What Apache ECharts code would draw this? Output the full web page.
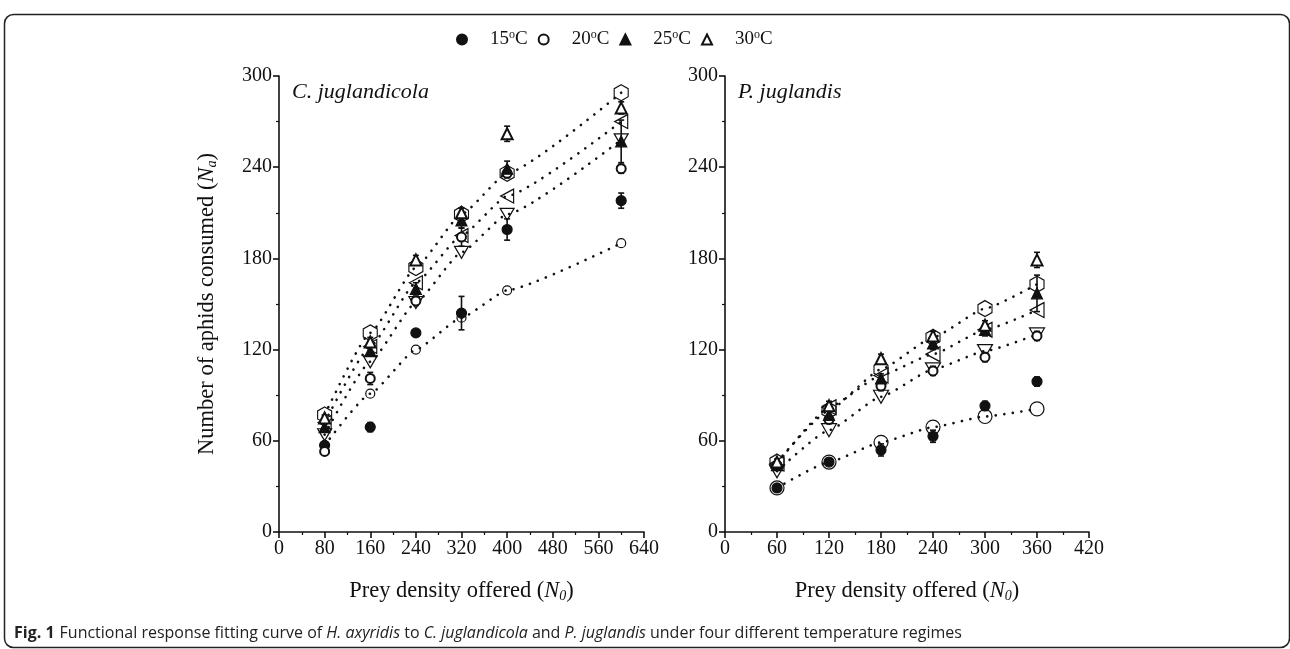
<!DOCTYPE html>
<html><head><meta charset="utf-8">
<script src="https://cdn.jsdelivr.net/npm/echarts@6/dist/echarts.min.js"></script>
<style>html,body{margin:0;padding:0;background:#fff}#c{width:1290px;height:649px}</style>
</head><body><div id="c"></div>
<script>
// ---------- data ----------
const tempNames = ['15°C', '20°C', '25°C', '30°C'];
const xLeft = [80, 160, 240, 320, 400, 600];
const xRight = [60, 120, 180, 240, 300, 360];
const xTicksLeft = [0, 80, 160, 240, 320, 400, 480, 560, 640];
const xTicksRight = [0, 60, 120, 180, 240, 300, 360, 420];
const yTicks = [0, 60, 120, 180, 240, 300];

// C. juglandicola observed (mean) and SE
const cjObs15 = [57, 69, 131, 144, 199, 218];
const cjObs20 = [53, 101, 152, 194, 236, 239];
const cjObs25 = [69, 119, 160, 205, 239, 257];
const cjObs30 = [75, 125, 179, 210, 262, 279];
const cjErr15 = [2, 3, 2, 11, 7, 5];
const cjErr20 = [2, 4, 3, 6, 3, 3];
const cjErr25 = [2, 3, 4, 5, 5, 14];
const cjErr30 = [2, 3, 3, 3, 5, 4];
// C. juglandicola fitted
const cjFit15 = [57, 91, 120, 141, 159, 190];
const cjFit20 = [64, 112, 151, 184, 209, 258];
const cjFit25 = [72, 122, 164, 195, 221, 270];
const cjFit30 = [77, 131, 174, 209, 236, 289];

// P. juglandis observed and SE
const pjObs15 = [29, 46, 54, 63, 83, 99];
const pjObs20 = [44, 74, 96, 106, 115, 129];
const pjObs25 = [44, 77, 101, 124, 133, 157];
const pjObs30 = [46, 83, 114, 129, 136, 179];
const pjErr15 = [1, 1, 4, 4, 3, 3];
const pjErr20 = [2, 2, 3, 3, 3, 3];
const pjErr25 = [2, 3, 3, 4, 4, 12];
const pjErr30 = [2, 3, 3, 3, 3, 5];
// P. juglandis fitted
const pjFit15 = [29, 46, 59, 69, 76, 81];
const pjFit20 = [40, 67, 89, 107, 119, 130];
const pjFit25 = [45, 82, 103, 117, 133, 146];
const pjFit30 = [46, 80, 107, 128, 147, 163];

// ---------- styling ----------
const INK = '#111';
const SERIF = '"Liberation Serif","Times New Roman",serif';
const SANS = '"Open Sans","Noto Sans",sans-serif';
const obsSymbols = ['circle', 'emptyCircle', 'triangle', 'emptyTriangle'];
const obsSizes = [10, 9, 11, 11];
const HEX = 'path://M5,0 L10,2.887 L10,8.66 L5,11.547 L0,8.66 L0,2.887 Z';
const LTRI = 'path://M0,5 L10,0 L10,10 Z';
const DTRI = 'path://M0,0 L10,0 L5,8.66 Z';
const fitSymbols = ['circle', DTRI, LTRI, HEX];
const fitSizesLeft = [9, [14, 12], [13, 14], [14, 16]];
const fitSizesRight = [14, [15, 13], [14, 15], [14, 16]];

const panels = [
  { x: xLeft, obs: [cjObs15, cjObs20, cjObs25, cjObs30], err: [cjErr15, cjErr20, cjErr25, cjErr30],
    fit: [cjFit15, cjFit20, cjFit25, cjFit30], fitSizes: fitSizesLeft },
  { x: xRight, obs: [pjObs15, pjObs20, pjObs25, pjObs30], err: [pjErr15, pjErr20, pjErr25, pjErr30],
    fit: [pjFit15, pjFit20, pjFit25, pjFit30], fitSizes: fitSizesRight }
];

function zip(x, y) { return x.map((v, i) => [v, y[i]]); }

function errSeries(p, x, y, e, t) {
  return {
    type: 'custom', name: 'err' + p + '_' + t, xAxisIndex: p, yAxisIndex: p, z: 3, silent: true,
    data: x.map((v, i) => [v, y[i] - e[i], y[i] + e[i]]),
    renderItem: function (params, api) {
      const lo = api.coord([api.value(0), api.value(1)]);
      const hi = api.coord([api.value(0), api.value(2)]);
      const w = 3;
      const st = { stroke: INK, lineWidth: 1.6 };
      return { type: 'group', children: [
        { type: 'line', shape: { x1: lo[0], y1: lo[1], x2: hi[0], y2: hi[1] }, style: st },
        { type: 'line', shape: { x1: lo[0] - w, y1: lo[1], x2: lo[0] + w, y2: lo[1] }, style: st },
        { type: 'line', shape: { x1: hi[0] - w, y1: hi[1], x2: hi[0] + w, y2: hi[1] }, style: st }
      ]};
    }
  };
}

const series = [];
panels.forEach((P, p) => {
  for (let t = 0; t < 4; t++) {
    series.push({
      type: 'line', name: 'fit' + p + '_' + t, xAxisIndex: p, yAxisIndex: p, z: 2,
      data: zip(P.x, P.fit[t]), smooth: 0.15, smoothMonotone: 'x',
      symbol: fitSymbols[t], symbolSize: P.fitSizes[t], showAllSymbol: true,
      lineStyle: { color: INK, width: 2.6, type: [0.1, 8.5], cap: 'round' },
      itemStyle: { color: 'rgba(0,0,0,0)', borderColor: INK, borderWidth: 1.2, opacity: 1 },
      emphasis: { disabled: true }, animation: false
    });
  }
  for (let t = 0; t < 4; t++) {
    series.push(errSeries(p, P.x, P.obs[t], P.err[t], t));
  }
  for (let t = 0; t < 4; t++) {
    series.push({
      type: 'scatter', name: tempNames[t], xAxisIndex: p, yAxisIndex: p, z: 4,
      data: zip(P.x, P.obs[t]), symbol: obsSymbols[t], symbolSize: obsSizes[t],
      itemStyle: { color: INK, borderColor: INK, borderWidth: 1.2, opacity: 1 },
      emphasis: { disabled: true }, animation: false
    });
  }
});

const axisLabel = { fontFamily: SERIF, fontSize: 20, color: INK, margin: 7 };
const axisLine = { show: true, onZero: false, lineStyle: { color: INK, width: 1.6 } };
const axisTick = { show: true, inside: false, length: 6, lineStyle: { color: INK, width: 1.6 } };
const minorTick = { show: true, splitNumber: 2, length: 3, lineStyle: { color: INK, width: 1.2 } };
const nameRich = {
  a: { fontFamily: SERIF, fontSize: 22.5, color: INK },
  i: { fontFamily: SERIF, fontSize: 22.5, fontStyle: 'italic', color: INK },
  s: { fontFamily: SERIF, fontSize: 14, fontStyle: 'italic', color: INK, padding: [10, 0, 0, 0] }
};

function xAxis(idx, ticks) {
  return {
    type: 'value', gridIndex: idx, min: ticks[0], max: ticks[ticks.length - 1],
    interval: ticks[1] - ticks[0],
    name: '{a|Prey density offered (}{i|N}{s|0}{a|)}', nameLocation: 'middle', nameGap: 47,
    nameTextStyle: { rich: nameRich },
    axisLine, axisTick, minorTick, axisLabel, splitLine: { show: false }
  };
}
function yAxis(idx, named) {
  return {
    type: 'value', gridIndex: idx, min: yTicks[0], max: yTicks[yTicks.length - 1],
    interval: yTicks[1] - yTicks[0],
    name: named ? '{a|Number of aphids consumed (}{i|N}{s|a}{a|)}' : '',
    nameLocation: 'middle', nameGap: 60, nameRotate: 90,
    nameTextStyle: { rich: nameRich },
    axisLine, axisTick, minorTick, axisLabel, splitLine: { show: false }
  };
}

const option = {
  backgroundColor: '#fff',
  animation: false,
  grid: [
    { left: 279, top: 76, width: 365, height: 456 },
    { left: 725, top: 76, width: 364, height: 456 }
  ],
  xAxis: [xAxis(0, xTicksLeft), xAxis(1, xTicksRight)],
  yAxis: [yAxis(0, true), yAxis(1, false)],
  legend: {
    data: tempNames.map(n => ({ name: n })),
    left: 451, top: 24, itemWidth: 10, itemHeight: 10, itemGap: 10,
    selectedMode: false,
    formatter: function (name) {
      const num = name.replace('°C', '');
      return '{t|' + num + '}{o|o}{t|C}';
    },
    textStyle: {
      padding: [0, 0, 0, 18],
      rich: {
        t: { fontFamily: SERIF, fontSize: 19, color: INK },
        o: { fontFamily: SERIF, fontSize: 12, color: INK, padding: [0, 0, 9, 0] }
      }
    }
  },
  title: [
    { text: '{i|C. juglandicola}', left: 287, top: 76,
      textStyle: { rich: { i: { fontFamily: SERIF, fontSize: 22, fontStyle: 'italic', fontWeight: 'normal', color: INK } } } },
    { text: '{i|P. juglandis}', left: 733, top: 76,
      textStyle: { rich: { i: { fontFamily: SERIF, fontSize: 22, fontStyle: 'italic', fontWeight: 'normal', color: INK } } } },
    { text: '{b|Fig. 1} {n|Functional response fitting curve of }{i|H. axyridis}{n| to }{i|C. juglandicola}{n| and }{i|P. juglandis}{n| under four different temperature regimes}',
      left: 9, top: 619,
      textStyle: { fontWeight: 'normal', rich: {
        b: { fontFamily: SANS, fontSize: 16, fontWeight: 'bold', color: '#222' },
        n: { fontFamily: SANS, fontSize: 16, fontWeight: 'normal', color: '#222' },
        i: { fontFamily: SANS, fontSize: 16, fontStyle: 'italic', fontWeight: 'normal', color: '#222' }
      } } }
  ],
  graphic: [
    { type: 'rect', left: 2, top: 12, z: -1,
      shape: { width: 1285, height: 633, r: 9 },
      style: { fill: 'none', stroke: '#222', lineWidth: 1.5 } }
  ],
  series
};

const chart = echarts.init(document.getElementById('c'), null, { renderer: 'canvas' });
chart.setOption(option);
</script>
</body></html>
